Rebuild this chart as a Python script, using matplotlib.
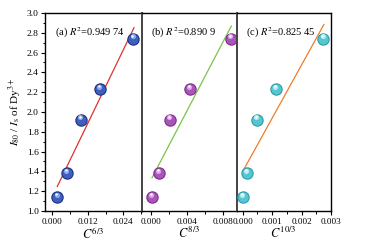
import numpy as np
import matplotlib
matplotlib.use("Agg")
import matplotlib.pyplot as plt
from matplotlib.ticker import MultipleLocator, FormatStrFormatter

plt.rcParams['font.family'] = ['Liberation Serif', 'DejaVu Serif']
plt.rcParams['mathtext.fontset'] = 'stix'

# intensity ratio, same for all panels
ratio = [1.14, 1.38, 1.92, 2.23, 2.74]

# concentration terms
c_a = [0.00169, 0.00487, 0.0096, 0.01612, 0.02738]
c_b = [0.00011, 0.00083, 0.00209, 0.00432, 0.00891]
c_c = [0.00002, 0.00014, 0.00048, 0.00112, 0.00274]

labels = ['(a) $R^2$=0.949 74', '(b) $R^2$=0.890 9', '(c) $R^2$=0.825 45']
xlabels = ['$C^{6/3}$', '$C^{8/3}$', '$C^{10/3}$']
xlims = [(-0.00247, 0.0302), (-0.00104, 0.00953), (-0.0002, 0.003)]
major = [0.012, 0.004, 0.001]
ball_cols = [('#1a2f7a', '#3f5fc0', '#8fa6e8'),
             ('#7a2a8a', '#a855b8', '#dba6e6'),
             ('#2a9aa8', '#55c6cf', '#b2ecef')]
line_cols = ['#e0312f', '#7cc24a', '#f07c2c']
line_end = [0.0276, 0.00893, 0.00276]

fig = plt.figure(figsize=(3.83, 2.5), dpi=100)
left, bottom, h = 45 / 383, 1 - 211 / 250, 198 / 250
widths = [96.7 / 383, 95 / 383, 94.3 / 383]

xs = [c_a, c_b, c_c]
x0 = left
for i in range(3):
    ax = fig.add_axes([x0, bottom, widths[i], h])
    x0 += widths[i]
    x = np.array(xs[i])
    y = np.array(ratio)

    # fitted line
    k, b = np.polyfit(x, y, 1)
    xl = np.array([x[0], line_end[i]])
    ax.plot(xl, k * xl + b, color=line_cols[i], lw=0.9, zorder=2)

    # shaded balls
    dark, mid, light = ball_cols[i]
    ax.scatter(x, y, s=80, color=dark, zorder=3, linewidths=0)
    ax.scatter(x, y, s=55, color=mid, zorder=4, linewidths=0)
    span = xlims[i][1] - xlims[i][0]
    ax.scatter(x - span * 0.008, y + 0.025, s=14, color=light, zorder=5, linewidths=0)
    ax.scatter(x - span * 0.01, y + 0.03, s=3, color='white', zorder=6, linewidths=0)

    ax.set_xlim(*xlims[i])
    ax.set_ylim(1.0, 3.0)
    ax.xaxis.set_major_locator(MultipleLocator(major[i]))
    ax.xaxis.set_minor_locator(MultipleLocator(major[i] / 2))
    ax.xaxis.set_major_formatter(FormatStrFormatter('%.3f'))
    ax.tick_params(axis='x', which='major', direction='out', length=3, width=0.8,
                   labelsize=6.6, pad=2)
    ax.tick_params(axis='x', which='minor', direction='out', length=1.8, width=0.7)
    ax.set_xlabel(xlabels[i], fontsize=9, labelpad=0)

    if i == 0:
        ax.yaxis.set_major_locator(MultipleLocator(0.2))
        ax.yaxis.set_minor_locator(MultipleLocator(0.1))
        ax.yaxis.set_major_formatter(FormatStrFormatter('%.1f'))
        ax.tick_params(axis='y', which='major', direction='out', length=3, width=0.8,
                       labelsize=6.8, pad=1.5)
        ax.tick_params(axis='y', which='minor', direction='out', length=1.8, width=0.7)
        ax.set_ylabel('$I_{80}$ / $I_{\\rm s}$ of Dy$^{3+}$', fontsize=8, labelpad=2)
    else:
        ax.set_yticks([])
        ax.tick_params(axis='y', which='both', left=False)

    for sp in ax.spines.values():
        sp.set_linewidth(1.0)
    if i > 0:
        ax.spines['left'].set_color('#444444')
        ax.spines['left'].set_linewidth(1.4)

    ax.text(0.1, 0.9, labels[i], transform=ax.transAxes, fontsize=7.5, va='center')

fig.savefig('out.png', dpi=100)
